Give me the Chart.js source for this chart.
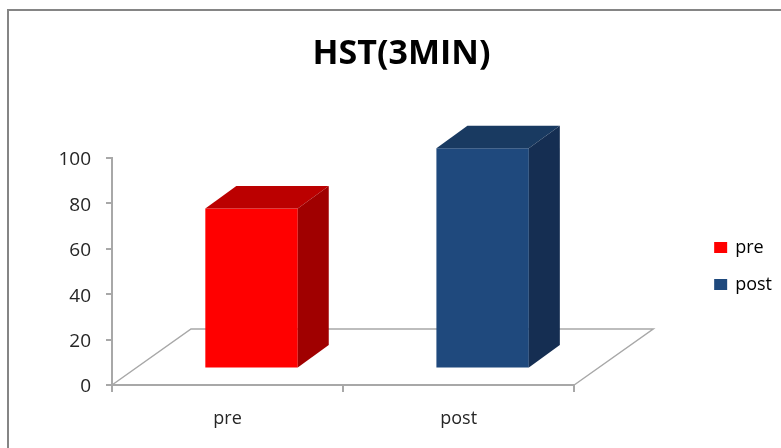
<!DOCTYPE html>
<html>
<head>
<meta charset="utf-8">
<style>html,body{margin:0;padding:0;background:#fff;overflow:hidden}canvas{display:block}</style>
<script src="https://cdn.jsdelivr.net/npm/chart.js@4"></script>
</head>
<body>
<canvas id="c" width="781" height="448"></canvas>
<script>
const chartTitle = 'HST(3MIN)';
const categories = ['pre', 'post'];
const seriesValues = [70.5, 97];
const frontColors = ['#ff0000', '#1f497d'];
const topColors = ['#bb0000', '#193a61'];
const sideColors = ['#a00000', '#152e52'];
const yTicks = [0, 20, 40, 60, 80, 100];

const FONT = '"Open Sans", sans-serif';
const AXIS = '#a8a8a8';
const TEXT = '#262626';
const FLOOR = {dx: 79, dy: -56};
const BAR_SHIFT = {dx: 24, dy: -16.5};
const BAR_DEPTH = {dx: 31, dy: -22.5};

function face(ctx, pts, color) {
  ctx.fillStyle = color;
  ctx.beginPath();
  pts.forEach((p, i) => i ? ctx.lineTo(p[0], p[1]) : ctx.moveTo(p[0], p[1]));
  ctx.closePath();
  ctx.fill();
}

const scene3d = {
  id: 'scene3d',
  afterLayout(chart) {
    const lg = chart.legend;
    lg.left += 1; lg.right += 1;
    lg.top += 42; lg.bottom += 42;
  },
  beforeDraw(chart) {
    const ctx = chart.ctx;
    ctx.save();
    ctx.strokeStyle = '#858585';
    ctx.lineWidth = 2;
    ctx.strokeRect(8, 10, 900, 600);
    ctx.restore();
  },
  beforeDatasetsDraw(chart) {
    const ctx = chart.ctx, a = chart.chartArea;
    ctx.save();
    ctx.strokeStyle = AXIS;
    ctx.lineWidth = 1.5;
    ctx.beginPath();
    ctx.moveTo(a.left, a.bottom);
    ctx.lineTo(a.left + FLOOR.dx, a.bottom + FLOOR.dy);
    ctx.lineTo(a.right + FLOOR.dx, a.bottom + FLOOR.dy);
    ctx.lineTo(a.right, a.bottom);
    ctx.stroke();
    ctx.restore();
  },
  beforeDatasetDraw(chart) {
    chart.ctx.save();
    chart.ctx.translate(BAR_SHIFT.dx, BAR_SHIFT.dy);
  },
  afterDatasetDraw(chart, args) {
    const ctx = chart.ctx, d = BAR_DEPTH;
    args.meta.data.forEach((bar, i) => {
      const l = bar.x - bar.width / 2, r = bar.x + bar.width / 2, t = bar.y, b = bar.base;
      face(ctx, [[l, t], [r, t], [r + d.dx, t + d.dy], [l + d.dx, t + d.dy]], topColors[i]);
      face(ctx, [[r, t], [r + d.dx, t + d.dy], [r + d.dx, b + d.dy], [r, b]], sideColors[i]);
    });
    ctx.restore();
  }
};

new Chart(document.getElementById('c'), {
  type: 'bar',
  plugins: [scene3d],
  data: {
    labels: categories,
    datasets: [{
      data: seriesValues,
      backgroundColor: frontColors,
      borderWidth: 0,
      clip: false,
      barPercentage: 0.4,
      categoryPercentage: 1
    }]
  },
  options: {
    responsive: false,
    animation: false,
    layout: {autoPadding: false, padding: {left: 22}},
    plugins: {
      tooltip: {enabled: false},
      title: {
        display: true,
        text: chartTitle,
        color: '#000',
        font: {family: FONT, size: 34, weight: '700', lineHeight: 1.2},
        padding: {top: 34, bottom: 83.2}
      },
      legend: {
        display: true,
        position: 'right',
        labels: {
          boxWidth: 11,
          boxHeight: 9,
          padding: 19,
          color: TEXT,
          font: {family: FONT, size: 18},
          generateLabels: () => categories.map((c, i) => ({
            text: c, fillStyle: frontColors[i], strokeStyle: frontColors[i], lineWidth: 2, index: i, hidden: false
          }))
        }
      }
    },
    scales: {
      x: {
        grid: {offset: true, drawOnChartArea: false, drawTicks: true, tickLength: 7, color: AXIS, lineWidth: 2},
        border: {display: true, color: AXIS, width: 2},
        ticks: {color: TEXT, padding: 16, font: {family: FONT, size: 18}, maxRotation: 0},
        afterFit: s => { s.height = 63; }
      },
      y: {
        min: 0,
        max: 100,
        afterBuildTicks: s => { s.ticks = yTicks.map(v => ({value: v})); },
        grid: {drawOnChartArea: false, drawTicks: true, tickLength: 6, color: AXIS, lineWidth: 2},
        border: {display: true, color: AXIS, width: 2},
        ticks: {color: TEXT, padding: 15, labelOffset: 2, font: {family: FONT, size: 19}},
        afterFit: s => { s.width = 90; }
      },
      spacer: {
        axis: 'y',
        position: 'right',
        grid: {display: false},
        border: {display: false},
        ticks: {display: false},
        afterFit: s => { s.width = 121; }
      }
    }
  }
});
</script>
</body>
</html>
